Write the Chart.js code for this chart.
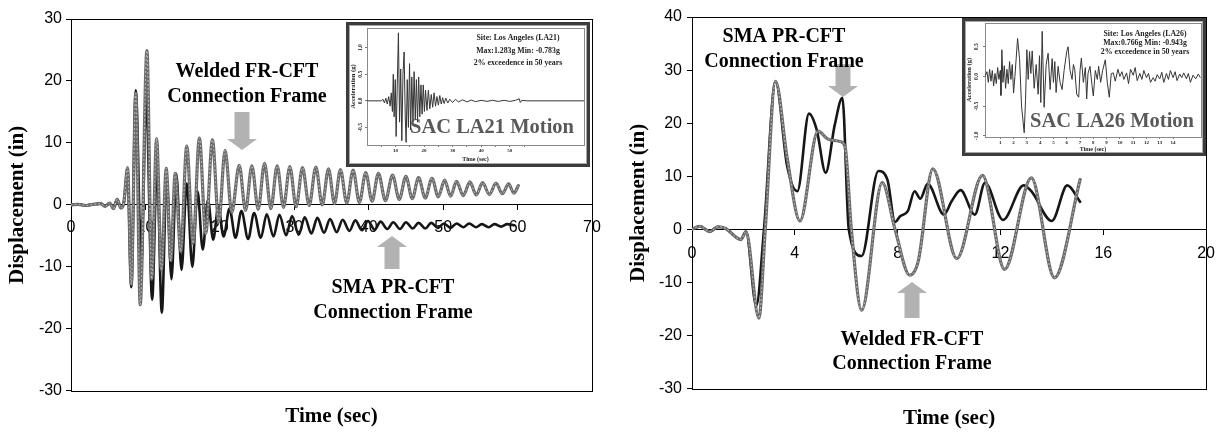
<!DOCTYPE html>
<html>
<head>
<meta charset="utf-8">
<script src="https://cdn.jsdelivr.net/npm/chart.js@4.4.0/dist/chart.umd.min.js"></script>
<style>
  html, body { margin: 0; padding: 0; background: #fff; }
  body { position: relative; width: 1225px; height: 432px; overflow: hidden; }
  .main { position: absolute; top: 0; }
  .inset { position: absolute; background: #fff; border: 3px solid #3c3c3c; box-shadow: inset 0 0 0 1px #a8a8a8; }
  .inset canvas { display: block; }
</style>
</head>
<body>
<canvas id="leftChart" class="main" width="612" height="432" style="left:0"></canvas>
<canvas id="rightChart" class="main" width="613" height="432" style="left:612px"></canvas>
<div class="inset" style="left:346px;top:22px;width:238px;height:139px"><canvas id="la21" width="238" height="139"></canvas></div>
<div class="inset" style="left:962px;top:18px;width:238px;height:132px"><canvas id="la26" width="238" height="132"></canvas></div>
<script>
// displacement time histories [time (sec), displacement (in)], peaks
const leftWelded = [
  [0,0],[1,0.1],[2,-0.1],[3,0.1],[4,0.2],[4.6,-0.2],[5.2,0.3],[5.7,-0.6],[6.2,0.9],[6.7,-0.5],[7.1,0.4],
  [7.6,6.0],[8.1,-12.8],[8.7,18.0],[9.3,-16.1],[10.2,24.9],[10.85,-12.0],[11.5,10.7],[12.15,-10.5],
  [12.8,5.9],[13.4,-9.0],[14.0,5.1],[14.75,-7.5],[15.55,9.5],[16.4,-6.2],[17.25,10.8],[18.1,-4.6],
  [19.0,10.5],[19.85,-2.8],[20.7,8.8],[21.6,-1.2],[22.6,6.4],[23.45,-0.9],[24.3,6.3],[25.15,-0.7],
  [26.0,6.7],[26.85,-0.6],[27.7,6.3],[28.55,-0.4],[29.4,6.2],[30.25,-0.3],[31.1,6.0],[32.0,-0.1],
  [32.9,6.1],[33.75,0.0],[34.6,5.8],[35.4,0.2],[36.2,5.7],[37.05,0.3],[37.9,5.6],[38.75,0.4],
  [39.6,5.2],[40.45,0.6],[41.3,5.1],[42.25,0.7],[43.2,4.8],[44.1,0.9],[45.0,4.6],[45.85,1.0],
  [46.7,4.4],[47.6,1.1],[48.5,4.3],[49.35,1.3],[50.2,4.0],[51.0,1.4],[51.8,3.8],[52.7,1.5],
  [53.6,3.7],[54.45,1.6],[55.3,3.6],[56.2,1.7],[57.1,3.5],[57.95,1.8],[58.8,3.4],[59.5,1.9],[60.1,3.1]
];
const leftSMA = [
  [0,0],[1,0.1],[2,-0.1],[3,0.1],[4,0.2],[4.6,-0.2],[5.2,0.3],[5.7,-0.6],[6.2,0.9],[6.7,-0.5],[7.1,0.4],
  [7.6,5.5],[8.1,-13.3],[8.7,18.5],[9.45,-9.5],[10.1,17.5],[10.9,-15.3],[11.55,6.5],[12.2,-17.4],
  [12.85,4.5],[13.5,-12.0],[14.15,5.0],[14.85,-10.5],[15.55,3.5],[16.3,-10.0],[17.0,2.2],[17.7,-7.2],
  [18.4,0.8],[19.1,-5.6],[19.8,-0.3],[20.5,-5.1],[21.3,-0.6],[22.1,-5.3],[22.9,-1.0],[23.8,-5.5],
  [24.6,-1.3],[25.5,-5.3],[26.3,-1.5],[27.2,-5.1],[28.0,-1.6],[28.9,-4.9],[29.7,-1.8],[30.6,-4.8],
  [31.4,-2.0],[32.3,-4.6],[33.1,-2.1],[34.0,-4.5],[34.8,-2.3],[35.7,-4.4],[36.5,-2.4],[37.4,-4.2],
  [38.2,-2.5],[39.1,-4.1],[39.9,-2.6],[40.8,-4.0],[41.6,-2.7],[42.5,-3.9],[43.3,-2.8],[44.2,-3.9],
  [45.0,-2.8],[45.9,-3.8],[46.7,-2.9],[47.6,-3.8],[48.4,-2.9],[49.3,-3.7],[50.1,-3.0],[51.0,-3.7],
  [51.8,-3.0],[52.7,-3.6],[53.5,-3.0],[54.4,-3.6],[55.2,-3.1],[56.1,-3.6],[56.9,-3.1],[57.8,-3.5],
  [58.6,-3.1],[59.5,-3.3]
];
const rightWelded = [
  [0,0],[0.3,0.6],[0.7,-0.4],[1.0,0.5],[1.3,0.2],[1.9,-1.9],[2.1,-0.4],[2.6,-16.7],[2.85,0],
  [3.25,27.9],[3.7,13.5],[4.2,1.6],[4.9,18.5],[5.3,17.0],[5.8,16.5],[5.96,15.4],[6.2,0],[6.6,-15.2],
  [7.4,8.8],[7.9,0],[8.47,-8.6],[8.8,-6.0],[9.37,11.4],[10.3,-5.5],[11.3,10.2],[12.16,-7.5],
  [13.2,9.7],[14.1,-9.1],[15.1,9.4]
];
const rightSMA = [
  [0,0],[0.3,0.6],[0.7,-0.4],[1.0,0.5],[1.3,0.2],[1.9,-1.9],[2.1,-0.4],[2.5,-14.4],[2.8,0],
  [3.25,27.9],[3.7,12.0],[4.1,7.2],[4.55,21.8],[4.85,18.8],[5.2,10.7],[5.55,19.6],[5.85,24.8],
  [6.1,0],[6.6,-5.0],[7.25,11.0],[7.6,9.4],[7.9,1.4],[8.1,2.5],[8.4,3.5],[8.66,7.2],[8.88,5.8],
  [9.17,8.6],[9.8,2.8],[10.1,5.3],[10.45,7.4],[11.0,2.8],[11.4,8.8],[12.1,1.8],[12.9,8.3],
  [13.2,7.2],[14.0,1.6],[14.6,8.3],[15.1,5.2]
];

// ground motion records for the insets [time (sec), acceleration (g)]
const la21Accel = [
  [0,0],[5.0,0.0],[5.6,0.03],[6.1,-0.04],[6.6,0.05],[7.1,-0.06],[7.6,0.08],[8.1,-0.1],[8.5,0.15],
  [8.9,-0.2],[9.2,0.5],[9.5,-0.3],[9.9,0.4],[10.2,-0.67],[10.6,0.3],[11.0,1.28],[11.4,-0.4],
  [11.8,0.6],[12.2,-0.75],[12.6,0.5],[13.0,0.92],[13.4,-0.3],[13.7,-0.78],[14.1,0.4],[14.5,-0.5],
  [14.9,0.7],[15.3,-0.55],[15.7,0.45],[16.1,-0.4],[16.5,0.55],[16.9,-0.35],[17.3,0.4],[17.7,-0.4],
  [18.1,0.45],[18.5,-0.3],[18.9,0.3],[19.3,-0.25],[19.7,0.3],[20.1,-0.2],[20.5,0.2],[21.0,-0.18],
  [21.5,0.2],[22.0,-0.15],[22.5,0.12],[23.0,-0.12],[23.5,0.15],[24.0,-0.1],[24.5,0.08],[25.0,-0.08],
  [25.5,0.1],[26.0,-0.06],[26.5,0.06],[27.0,-0.05],[27.6,0.05],[28.3,-0.04],[29.0,0.03],[30.0,-0.03],
  [31,0.03],[32,-0.02],[33.5,0.02],[35,-0.02],[36.5,0.015],[38,-0.015],[40,0.01],[42,-0.01],
  [44,0.01],[46,-0.01],[48,0.01],[50,-0.01],[52,0.01],[53.3,0.04],[53.7,-0.03],[54.2,0.01],[56,0],[76,0]
];
const la26Accel = [
  [-0.15,0.0],[0.0,0.08],[0.1,-0.1],[0.2,0.12],[0.3,-0.08],[0.4,0.1],[0.5,-0.16],[0.6,0.05],
  [0.7,-0.12],[0.8,0.15],[0.9,-0.05],[1.0,0.1],[1.05,-0.32],[1.12,0.45],[1.2,-0.1],[1.3,0.18],
  [1.4,-0.2],[1.5,0.12],[1.6,-0.12],[1.7,0.25],[1.8,-0.05],[1.9,0.2],[2.0,-0.28],[2.1,0.0],
  [2.3,0.64],[2.45,0.3],[2.6,-0.5],[2.8,-0.95],[2.9,-0.4],[3.0,0.45],[3.1,-0.05],[3.2,0.42],
  [3.3,0.05],[3.4,0.43],[3.55,-0.2],[3.7,0.2],[3.85,-0.3],[3.95,0.35],[4.05,-0.44],[4.15,0.76],
  [4.3,-0.52],[4.45,0.2],[4.6,0.39],[4.75,-0.22],[4.9,0.3],[5.0,-0.1],[5.1,0.25],[5.2,-0.27],
  [5.35,0.17],[5.5,-0.1],[5.65,-0.22],[5.8,0.1],[6.0,0.42],[6.1,0.5],[6.25,0.1],[6.4,-0.05],
  [6.5,0.2],[6.6,0.12],[6.75,-0.3],[6.9,-0.35],[7.0,0.1],[7.1,0.31],[7.25,-0.1],[7.4,0.15],
  [7.5,-0.38],[7.6,0.05],[7.75,0.17],[7.9,-0.15],[8.0,-0.33],[8.15,0.1],[8.3,-0.05],[8.4,0.17],
  [8.55,-0.1],[8.7,0.1],[8.9,0.28],[9.05,-0.1],[9.2,-0.35],[9.35,0.05],[9.5,0.06],[9.65,-0.08],
  [9.85,0.12],[10.0,0.0],[10.15,0.08],[10.3,-0.05],[10.5,0.06],[10.65,-0.12],[10.8,0.12],[11.0,0.02],
  [11.15,0.15],[11.3,-0.07],[11.5,0.05],[11.65,-0.05],[11.8,0.1],[12.0,-0.02],[12.15,0.05],[12.3,-0.1],
  [12.5,-0.02],[12.65,-0.08],[12.8,0.03],[13.0,-0.04],[13.15,0.07],[13.3,-0.1],[13.5,0.05],[13.65,-0.05],
  [13.8,0.1],[14.0,-0.02],[14.15,0.08],[14.3,-0.07],[14.5,0.04],[14.65,-0.02],[14.8,0.06],[15.0,-0.04],
  [15.15,0.05],[15.3,-0.1],[15.5,0.02],[15.7,-0.04],[15.9,0.04],[16.05,-0.02]
];

const la21TimeTicks = [5, 10, 15, 20, 25, 30, 35, 40, 45, 50, 55];
const la26TimeTicks = [1, 2, 3, 4, 5, 6, 7, 8, 9, 10, 11, 12, 13, 14];
const la21AccelTicks = [-0.5, 0, 0.5, 1.0];
const la26AccelTicks = [-1.0, -0.5, 0, 0.5];
const la21Notes = ['Site: Los Angeles (LA21)', 'Max:1.283g Min: -0.783g', '2% exceedence in 50 years'];
const la26Notes = ['Site: Los Angeles (LA26)', 'Max:0.766g Min: -0.943g', '2% exceedence in 50 years'];

const SERIF = '"Liberation Serif", "Times New Roman", serif';
const SANS = '"Liberation Sans", Arial, sans-serif';

function xy(pairs) {
  return pairs.map(p => ({ x: p[0], y: p[1] }));
}

const framePlugin = {
  id: 'frame',
  beforeDatasetsDraw(chart, args, opts) {
    const { ctx, chartArea: a } = chart;
    ctx.save();
    ctx.strokeStyle = opts.color || '#000';
    ctx.lineWidth = 1;
    ctx.strokeRect(Math.round(a.left) + 0.5, Math.round(a.top) + 0.5,
      Math.round(a.right - a.left), Math.round(a.bottom - a.top));
    ctx.restore();
  }
};

function drawArrow(ctx, x, tail, tip) {
  const dir = tip > tail ? 1 : -1;
  const base = tip - dir * 11;
  ctx.beginPath();
  ctx.moveTo(x - 7.5, tail);
  ctx.lineTo(x + 7.5, tail);
  ctx.lineTo(x + 7.5, base);
  ctx.lineTo(x + 15, base);
  ctx.lineTo(x, tip);
  ctx.lineTo(x - 15, base);
  ctx.lineTo(x - 7.5, base);
  ctx.closePath();
  ctx.fillStyle = '#b2b2b2';
  ctx.fill();
}

// arrows and labels, given in page pixels, shifted by the canvas offset
function notesPlugin(dx, arrows, labels) {
  return {
    id: 'notes',
    afterDatasetsDraw(chart) {
      const ctx = chart.ctx;
      ctx.save();
      arrows.forEach(a => drawArrow(ctx, a[0] - dx, a[1], a[2]));
      ctx.font = 'bold 20px ' + SERIF;
      ctx.fillStyle = '#000';
      ctx.textAlign = 'center';
      ctx.textBaseline = 'middle';
      labels.forEach(l => ctx.fillText(l[0], l[1] - dx, l[2]));
      ctx.restore();
    }
  };
}

function displacementChart(id, opt) {
  const tickFont = { family: SANS, size: 16 };
  return new Chart(document.getElementById(id), {
    type: 'line',
    data: {
      datasets: [
        { data: xy(opt.welded), borderColor: '#c6c6c6', borderWidth: 1, borderDash: [1, 3] },
        { data: xy(opt.welded), borderColor: '#6b6b6b', borderWidth: 3.2 },
        { data: xy(opt.sma), borderColor: '#161616', borderWidth: 2.6 }
      ]
    },
    options: {
      responsive: false,
      animation: false,
      events: [],
      layout: { padding: { left: 0, top: opt.top, right: opt.right, bottom: 0 } },
      elements: {
        point: { radius: 0 },
        line: { cubicInterpolationMode: 'monotone', borderJoinStyle: 'round', borderCapStyle: 'round' }
      },
      scales: {
        x: {
          type: 'linear',
          position: { y: 0 },
          min: 0,
          max: opt.xMax,
          ticks: { stepSize: opt.xStep, font: tickFont, color: '#000', padding: opt.xPad, maxRotation: 0, autoSkip: false },
          grid: { drawOnChartArea: false, tickLength: 5, color: '#000' },
          border: { color: '#000' }
        },
        y: {
          min: opt.yMin,
          max: opt.yMax,
          ticks: { stepSize: 10, font: tickFont, color: '#000', padding: opt.yPad },
          grid: { drawOnChartArea: false, tickLength: 5, color: '#000' },
          border: { color: '#000' },
          title: {
            display: true, text: 'Displacement (in)', color: '#000',
            font: { family: SERIF, size: 21, weight: 'bold' },
            padding: { top: opt.yTitlePad, bottom: 0 }
          },
          afterFit: s => { s.width = opt.axisWidth; }
        }
      },
      plugins: {
        legend: { display: false },
        tooltip: { enabled: false },
        title: {
          display: true, position: 'bottom', fullSize: false, text: 'Time (sec)', color: '#000',
          font: { family: SERIF, size: 21, weight: 'bold' },
          padding: opt.titlePad
        }
      }
    },
    plugins: [framePlugin, notesPlugin(opt.dx, opt.arrows, opt.labels)]
  });
}

displacementChart('leftChart', {
  welded: leftWelded, sma: leftSMA,
  xMax: 70, xStep: 10, yMin: -30, yMax: 30,
  top: 19, right: 20, axisWidth: 71, yPad: 4, xPad: 8, yTitlePad: 5,
  titlePad: { top: 13, bottom: 3 },
  dx: 0,
  arrows: [[242, 112, 150], [392, 269, 236]],
  labels: [['Welded FR-CFT', 247, 72], ['Connection Frame', 247, 97],
           ['SMA PR-CFT', 393, 288], ['Connection Frame', 393, 313]]
});

displacementChart('rightChart', {
  welded: rightWelded, sma: rightSMA,
  xMax: 20, xStep: 4, yMin: -30, yMax: 40,
  top: 17, right: 16, axisWidth: 80, yPad: 5, xPad: 10, yTitlePad: 14,
  titlePad: { top: 17, bottom: 1 },
  dx: 612,
  arrows: [[843, 64, 97], [912, 318, 282]],
  labels: [['SMA PR-CFT', 784, 37], ['Connection Frame', 784, 62],
           ['Welded FR-CFT', 912, 340], ['Connection Frame', 912, 364]]
});

// inset: rotated accel tick labels, site notes and the big motion label
function insetTextPlugin(o) {
  return {
    id: 'insetText',
    afterDraw(chart) {
      const ctx = chart.ctx;
      const ys = chart.scales.y;
      ctx.save();
      ctx.fillStyle = '#222';
      ctx.textAlign = 'center';
      ctx.textBaseline = 'middle';
      ctx.font = 'bold 5.5px ' + SERIF;
      o.yTicks.forEach(v => {
        ctx.save();
        ctx.translate(ys.right - o.yLabelGap, ys.getPixelForValue(v));
        ctx.rotate(-Math.PI / 2);
        ctx.fillText(v.toFixed(1), 0, 0);
        ctx.restore();
      });
      ctx.font = 'bold 7.8px ' + SERIF;
      o.notes.forEach((t, i) => ctx.fillText(t, o.noteX, o.noteY + i * o.noteStep));
      ctx.font = 'bold 20.5px ' + SERIF;
      ctx.fillStyle = '#595959';
      ctx.fillText(o.name, o.nameX, o.nameY);
      ctx.restore();
    }
  };
}

function insetChart(id, o) {
  return new Chart(document.getElementById(id), {
    type: 'line',
    data: { datasets: [{ data: xy(o.accel), borderColor: '#353535', borderWidth: 1, tension: 0 }] },
    options: {
      responsive: false,
      animation: false,
      events: [],
      layout: { padding: { left: 0, top: o.top, right: o.right, bottom: 0 } },
      elements: { point: { radius: 0 } },
      scales: {
        x: {
          type: 'linear', min: o.xMin, max: o.xMax,
          afterBuildTicks: s => { s.ticks = o.xTicks.map(v => ({ value: v })); },
          ticks: {
            font: { family: SERIF, size: 5, weight: 'bold' }, color: '#222', padding: 1, maxRotation: 0, autoSkip: false,
            callback: o.xLabel
          },
          grid: { drawOnChartArea: false, tickLength: 2, color: '#777' },
          border: { color: '#8a8a8a' },
          title: { display: true, text: 'Time (sec)', color: '#222', font: { family: SERIF, size: 6, weight: 'bold' }, padding: { top: 0, bottom: o.xTitlePad } },
          afterFit: s => { s.height = o.xHeight; }
        },
        y: {
          min: o.yMin, max: o.yMax,
          afterBuildTicks: s => { s.ticks = o.yTicks.map(v => ({ value: v })); },
          ticks: { display: false },
          grid: { drawOnChartArea: false, tickLength: 2, color: '#777' },
          border: { color: '#8a8a8a' },
          title: { display: true, text: 'Acceleration (g)', color: '#222', font: { family: SERIF, size: 6.5, weight: 'bold' }, padding: { top: 0, bottom: 0 } },
          afterFit: s => { s.width = o.yWidth; }
        }
      },
      plugins: { legend: { display: false }, tooltip: { enabled: false }, frame: { color: '#8a8a8a' } }
    },
    plugins: [framePlugin, insetTextPlugin(o)]
  });
}

insetChart('la21', {
  accel: la21Accel, xMin: 0, xMax: 76, yMin: -0.83, yMax: 1.37,
  xTicks: la21TimeTicks, yTicks: la21AccelTicks,
  xLabel: v => (v % 10 === 0 ? v : ''),
  top: 3, right: 3, xHeight: 19, yWidth: 18, xTitlePad: 1, yLabelGap: 6,
  notes: la21Notes, noteX: 169, noteY: 13, noteStep: 12.5,
  name: 'SAC LA21 Motion', nameX: 143, nameY: 103
});

insetChart('la26', {
  accel: la26Accel, xMin: -0.15, xMax: 16.1, yMin: -1.02, yMax: 0.9,
  xTicks: la26TimeTicks, yTicks: la26AccelTicks,
  xLabel: v => v,
  top: 2, right: 2, xHeight: 16, yWidth: 20, xTitlePad: 0, yLabelGap: 8,
  notes: la26Notes, noteX: 180, noteY: 13, noteStep: 9,
  name: 'SAC LA26 Motion', nameX: 147, nameY: 101
});
</script>
</body>
</html>
